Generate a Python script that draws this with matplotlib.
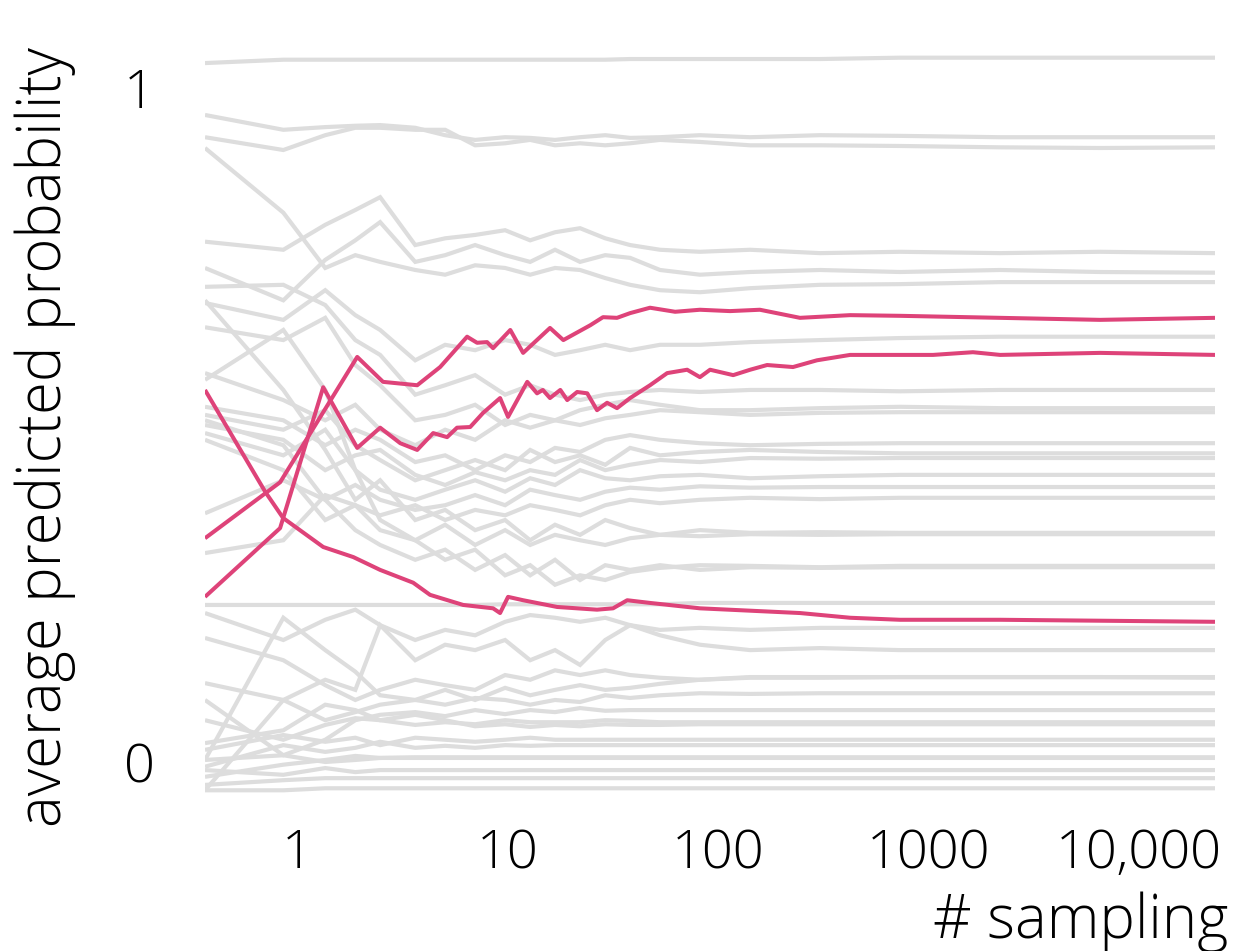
import matplotlib
matplotlib.use("Agg")
import matplotlib.pyplot as plt

# ---------------------------------------------------------------------------
# data
# ---------------------------------------------------------------------------
# shared sampling counts for the background (grey) runs
GRID_X = [0.365, 0.86, 1.36, 1.89, 2.48, 3.64, 5.05, 7.01, 9.73, 12.8, 16.8,
          22.1, 29.1, 38.2, 53, 82, 142, 305, 732, 2190, 6530, 22960]

# grey runs, upper group
gray_upper = [
    [1.037, 1.042, 1.042, 1.042, 1.042, 1.042, 1.042, 1.042, 1.042, 1.042, 1.042, 1.042, 1.042, 1.043, 1.043, 1.043, 1.043, 1.043, 1.045, 1.045, 1.045, 1.045],
    [0.960, 0.938, 0.942, 0.944, 0.945, 0.941, 0.930, 0.923, 0.927, 0.926, 0.923, 0.927, 0.930, 0.926, 0.927, 0.930, 0.927, 0.930, 0.929, 0.927, 0.927, 0.927],
    [0.927, 0.908, 0.930, 0.941, 0.941, 0.938, 0.938, 0.915, 0.918, 0.923, 0.915, 0.918, 0.915, 0.918, 0.923, 0.920, 0.915, 0.915, 0.914, 0.912, 0.911, 0.912],
    [0.772, 0.760, 0.797, 0.819, 0.838, 0.767, 0.777, 0.782, 0.789, 0.774, 0.786, 0.792, 0.777, 0.767, 0.760, 0.757, 0.760, 0.755, 0.757, 0.755, 0.757, 0.755],
    [0.733, 0.685, 0.745, 0.774, 0.801, 0.742, 0.752, 0.767, 0.752, 0.742, 0.760, 0.742, 0.752, 0.748, 0.730, 0.723, 0.727, 0.730, 0.727, 0.730, 0.727, 0.726],
    [0.911, 0.815, 0.733, 0.752, 0.742, 0.730, 0.723, 0.737, 0.733, 0.723, 0.733, 0.730, 0.718, 0.708, 0.700, 0.697, 0.703, 0.708, 0.709, 0.712, 0.712, 0.712],
    [0.681, 0.656, 0.700, 0.663, 0.641, 0.596, 0.619, 0.611, 0.626, 0.619, 0.604, 0.611, 0.619, 0.611, 0.619, 0.619, 0.623, 0.626, 0.629, 0.631, 0.631, 0.631],
]

# grey runs, middle group
gray_middle = [
    [0.705, 0.708, 0.678, 0.626, 0.604, 0.545, 0.559, 0.574, 0.545, 0.559, 0.545, 0.537, 0.545, 0.549, 0.552, 0.549, 0.552, 0.552, 0.550, 0.552, 0.552, 0.552],
    [0.645, 0.626, 0.659, 0.589, 0.559, 0.507, 0.515, 0.530, 0.500, 0.515, 0.507, 0.522, 0.530, 0.537, 0.530, 0.522, 0.522, 0.525, 0.527, 0.525, 0.525, 0.525],
    [0.577, 0.537, 0.507, 0.530, 0.493, 0.470, 0.493, 0.478, 0.507, 0.496, 0.507, 0.500, 0.510, 0.515, 0.522, 0.519, 0.515, 0.518, 0.519, 0.519, 0.519, 0.519],
    [0.527, 0.507, 0.470, 0.493, 0.478, 0.445, 0.455, 0.433, 0.455, 0.445, 0.466, 0.460, 0.478, 0.485, 0.478, 0.473, 0.470, 0.472, 0.473, 0.473, 0.473, 0.473],
    [0.515, 0.493, 0.522, 0.470, 0.448, 0.418, 0.433, 0.448, 0.433, 0.463, 0.445, 0.455, 0.441, 0.466, 0.455, 0.460, 0.463, 0.460, 0.458, 0.458, 0.458, 0.458],
    [0.500, 0.478, 0.433, 0.455, 0.463, 0.426, 0.411, 0.430, 0.418, 0.433, 0.426, 0.448, 0.433, 0.441, 0.448, 0.445, 0.451, 0.450, 0.451, 0.451, 0.451, 0.451],
    [0.488, 0.455, 0.493, 0.433, 0.404, 0.389, 0.404, 0.418, 0.401, 0.421, 0.411, 0.433, 0.421, 0.418, 0.424, 0.426, 0.421, 0.424, 0.426, 0.426, 0.426, 0.426],
    [0.369, 0.418, 0.389, 0.411, 0.389, 0.374, 0.381, 0.396, 0.381, 0.404, 0.396, 0.389, 0.401, 0.407, 0.404, 0.409, 0.407, 0.408, 0.408, 0.408, 0.408, 0.408],
    [0.310, 0.329, 0.396, 0.381, 0.366, 0.381, 0.359, 0.374, 0.366, 0.381, 0.374, 0.366, 0.381, 0.389, 0.384, 0.389, 0.392, 0.390, 0.392, 0.392, 0.392, 0.392],
    [0.685, 0.552, 0.463, 0.389, 0.418, 0.359, 0.374, 0.344, 0.359, 0.329, 0.352, 0.337, 0.359, 0.347, 0.337, 0.344, 0.340, 0.341, 0.340, 0.340, 0.340, 0.340],
    [0.478, 0.433, 0.359, 0.381, 0.344, 0.329, 0.352, 0.322, 0.344, 0.322, 0.337, 0.329, 0.322, 0.332, 0.337, 0.335, 0.338, 0.337, 0.338, 0.338, 0.338, 0.338],
    [0.507, 0.470, 0.389, 0.344, 0.322, 0.300, 0.315, 0.285, 0.307, 0.277, 0.300, 0.270, 0.292, 0.285, 0.292, 0.285, 0.289, 0.288, 0.289, 0.289, 0.289, 0.289],
    [0.567, 0.641, 0.552, 0.433, 0.359, 0.329, 0.300, 0.315, 0.277, 0.292, 0.263, 0.277, 0.270, 0.282, 0.288, 0.292, 0.291, 0.289, 0.291, 0.291, 0.291, 0.291],
]

# grey runs, lower group
gray_lower = [
    [0.233, 0.233, 0.233, 0.233, 0.233, 0.233, 0.233, 0.233, 0.234, 0.234, 0.234, 0.234, 0.234, 0.234, 0.234, 0.236, 0.236, 0.236, 0.236, 0.236, 0.236, 0.236],
    [0.221, 0.181, 0.211, 0.226, 0.203, 0.181, 0.196, 0.188, 0.208, 0.218, 0.214, 0.208, 0.214, 0.203, 0.196, 0.199, 0.196, 0.199, 0.199, 0.199, 0.199, 0.199],
    [-0.042, 0.092, 0.122, 0.107, 0.203, 0.151, 0.174, 0.166, 0.181, 0.151, 0.166, 0.144, 0.181, 0.203, 0.188, 0.174, 0.166, 0.169, 0.166, 0.166, 0.166, 0.166],
    [0.184, 0.151, 0.114, 0.092, 0.107, 0.122, 0.114, 0.107, 0.129, 0.122, 0.136, 0.129, 0.136, 0.129, 0.125, 0.122, 0.126, 0.126, 0.126, 0.126, 0.126, 0.126],
    [0.003, 0.214, 0.166, 0.134, 0.099, 0.092, 0.107, 0.092, 0.110, 0.099, 0.107, 0.114, 0.107, 0.110, 0.116, 0.122, 0.125, 0.125, 0.126, 0.126, 0.126, 0.125],
    [0.117, 0.092, 0.062, 0.074, 0.085, 0.092, 0.085, 0.095, 0.092, 0.085, 0.092, 0.089, 0.099, 0.095, 0.099, 0.102, 0.101, 0.102, 0.102, 0.102, 0.102, 0.102],
    [0.092, 0.010, 0.033, 0.062, 0.070, 0.074, 0.068, 0.077, 0.071, 0.077, 0.074, 0.080, 0.076, 0.077, 0.077, 0.077, 0.077, 0.077, 0.077, 0.077, 0.077, 0.077],
    [0.062, 0.033, 0.055, 0.065, 0.062, 0.055, 0.059, 0.056, 0.062, 0.059, 0.059, 0.059, 0.062, 0.061, 0.059, 0.059, 0.059, 0.059, 0.059, 0.059, 0.059, 0.059],
    [0.028, 0.047, 0.085, 0.077, 0.062, 0.070, 0.062, 0.053, 0.056, 0.052, 0.055, 0.053, 0.056, 0.055, 0.055, 0.056, 0.056, 0.056, 0.056, 0.056, 0.056, 0.056],
    [0.018, 0.040, 0.030, 0.036, 0.025, 0.036, 0.033, 0.030, 0.033, 0.036, 0.033, 0.033, 0.033, 0.033, 0.033, 0.033, 0.033, 0.033, 0.033, 0.033, 0.033, 0.033],
    [-0.007, 0.025, 0.015, 0.021, 0.030, 0.021, 0.024, 0.021, 0.025, 0.024, 0.025, 0.025, 0.025, 0.025, 0.025, 0.025, 0.025, 0.025, 0.025, 0.025, 0.025, 0.025],
    [-0.022, -0.004, 0.003, 0.009, 0.006, 0.007, 0.007, 0.007, 0.007, 0.007, 0.007, 0.007, 0.007, 0.007, 0.007, 0.007, 0.007, 0.007, 0.007, 0.007, 0.007, 0.007],
    [0.003, 0.010, 0.000, 0.003, 0.006, 0.006, 0.006, 0.006, 0.006, 0.006, 0.006, 0.006, 0.006, 0.006, 0.006, 0.006, 0.006, 0.006, 0.006, 0.006, 0.006, 0.006],
    [-0.012, -0.019, -0.009, -0.015, -0.012, -0.012, -0.012, -0.012, -0.012, -0.012, -0.012, -0.012, -0.012, -0.012, -0.012, -0.012, -0.012, -0.012, -0.012, -0.012, -0.012, -0.012],
    [-0.034, -0.027, -0.024, -0.024, -0.024, -0.024, -0.024, -0.024, -0.024, -0.024, -0.024, -0.024, -0.024, -0.024, -0.024, -0.024, -0.024, -0.024, -0.024, -0.024, -0.024, -0.024],
    [-0.042, -0.042, -0.039, -0.039, -0.039, -0.039, -0.039, -0.039, -0.039, -0.039, -0.039, -0.039, -0.039, -0.039, -0.039, -0.039, -0.039, -0.039, -0.039, -0.039, -0.039, -0.039],
]

# highlighted runs
pink_a_x = [0.365, 0.83, 1.93, 2.56, 3.72, 4.78, 6.42, 7.16, 7.99, 8.53, 10.3, 11.85,
            15.9, 18.4, 24.7, 28.4, 33.1, 38.2, 47.5, 62.5, 82, 114, 158, 245, 424,
            732, 2188, 6530, 22960]
pink_a_y = [0.332, 0.415, 0.601, 0.564, 0.559, 0.586, 0.631, 0.622, 0.623, 0.614, 0.641, 0.607,
            0.644, 0.626, 0.648, 0.660, 0.659, 0.666, 0.674, 0.668, 0.671, 0.669, 0.671, 0.659, 0.663,
            0.662, 0.659, 0.656, 0.659]

pink_b_x = [0.365, 0.83, 1.33, 1.93, 2.48, 3.09, 3.72, 4.43, 5.16, 5.75, 6.64, 7.65, 9.21,
            10.05, 12.4, 13.8, 14.7, 15.9, 17.8, 19.2, 21.4, 23.9, 26.6, 29.7, 33.1, 38.2,
            47.5, 57.3, 71.3, 82, 91.6, 118, 142, 171, 227, 295, 424, 608, 1050, 1625,
            2188, 6530, 22960]
pink_b_y = [0.245, 0.347, 0.556, 0.466, 0.496, 0.473, 0.463, 0.488, 0.482, 0.496, 0.497, 0.518, 0.540,
            0.512, 0.564, 0.547, 0.552, 0.540, 0.552, 0.537, 0.549, 0.547, 0.522, 0.533, 0.525, 0.540,
            0.559, 0.577, 0.582, 0.571, 0.582, 0.574, 0.582, 0.589, 0.586, 0.596, 0.604, 0.604, 0.604, 0.608,
            0.604, 0.607, 0.604]

pink_c_x = [0.365, 0.705, 0.858, 1.33, 1.85, 2.48, 3.56, 4.28, 6.15, 8.53, 9.21, 10.05,
            11.85, 17.2, 26.6, 31.7, 37.0, 47.5, 82, 245, 424, 732, 2188, 22960]
pink_c_y = [0.552, 0.401, 0.362, 0.319, 0.304, 0.285, 0.266, 0.248, 0.233, 0.228, 0.221, 0.245,
            0.240, 0.230, 0.226, 0.228, 0.240, 0.236, 0.228, 0.221, 0.214, 0.211, 0.211, 0.208]

x_ticks = [1, 10, 100, 1000, 10000]
x_tick_labels = ["1", "10", "100", "1000", "10,000"]
y_ticks = [0, 1]
y_tick_labels = ["0", "1"]

GRAY = "#dddddd"
PINK = "#de4379"
FONT = ["Open Sans", "DejaVu Sans"]

# ---------------------------------------------------------------------------
# figure
# ---------------------------------------------------------------------------
plt.rcParams["font.family"] = FONT
fig = plt.figure(figsize=(12.6, 9.51), dpi=100)
ax = fig.add_axes([205 / 1260, 151 / 951, 1010 / 1260, 750 / 951])

for group in (gray_upper, gray_middle, gray_lower):
    for ys in group:
        ax.plot(GRID_X, ys, color=GRAY, lw=3.0, solid_joinstyle="miter",
                solid_capstyle="butt", zorder=1)

for xs, ys in ((pink_a_x, pink_a_y), (pink_b_x, pink_b_y), (pink_c_x, pink_c_y)):
    ax.plot(xs, ys, color=PINK, lw=2.9, solid_capstyle="butt", zorder=3)

ax.set_xscale("log")
ax.set_xlim(0.365, 22960)
ax.set_ylim(-0.0564, 1.0564)

for s in ax.spines.values():
    s.set_visible(False)
ax.minorticks_off()
ax.set_xticks(x_ticks)
ax.set_xticklabels(x_tick_labels)
ax.set_yticks(y_ticks)
ax.set_yticklabels(y_tick_labels)
ax.tick_params(axis="both", length=0, labelsize=39, colors="black")
ax.tick_params(axis="x", pad=20)
ax.tick_params(axis="y", pad=36)
for lab in ax.get_xticklabels() + ax.get_yticklabels():
    lab.set_fontweight("light")

fig.text(45 / 1260, 1 - 437 / 951, "average predicted probability",
         rotation=90, ha="center", va="center", fontsize=43, fontweight="light")
fig.text(1228 / 1260, 1 - 922 / 951, "# sampling",
         ha="right", va="center", fontsize=43, fontweight="light")

fig.savefig("out.png", dpi=100, facecolor="white")
